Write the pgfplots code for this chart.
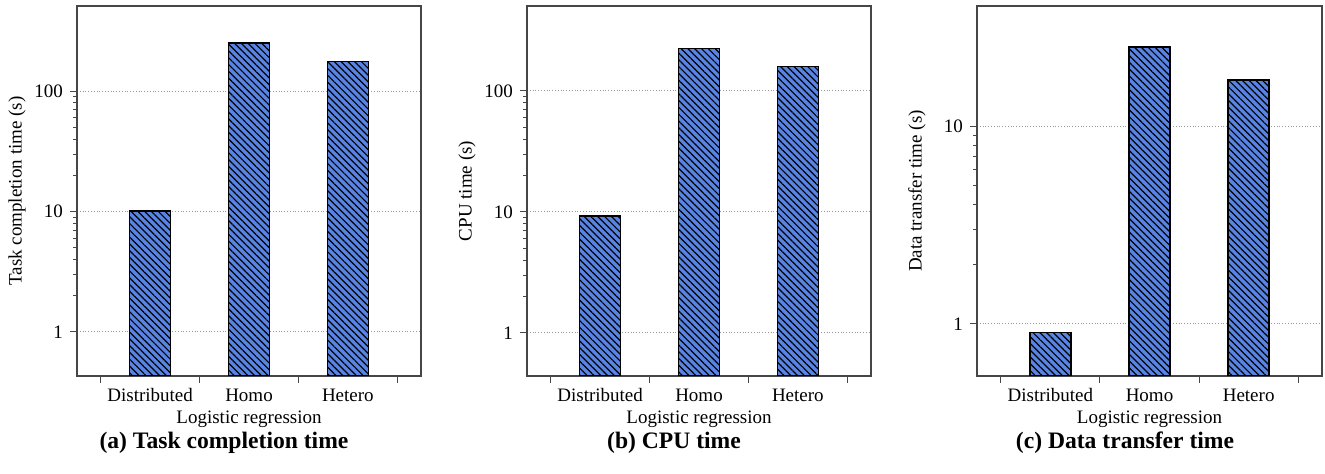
\documentclass[border=0pt]{standalone}
\usepackage{fontspec}
\setmainfont{Liberation Serif}
\usepackage{pgfplots}
\pgfplotsset{compat=1.18}
\usetikzlibrary{patterns.meta}

\definecolor{barblue}{RGB}{88,132,228}
\definecolor{framegray}{RGB}{70,70,70}

\pgfplotsset{
  lrbar/.style={
    scale only axis,
    height=185pt,
    xmin=0.26, xmax=3.74,
    xtick={0.5,1.5,2.5,3.5},
    xticklabels={},
    extra x ticks={1,2,3},
    extra x tick labels={Distributed,Homo,Hetero},
    extra x tick style={major tick length=0pt, xticklabel style={yshift=-2.8pt}},
    xtick pos=bottom, ytick pos=left,
    tick align=outside,
    major tick length=3.5pt, minor tick length=1.8pt,
    tick style={framegray, line width=0.5pt},
    axis line style={framegray, line width=0.6pt},
    ymajorgrids,
    major grid style={densely dotted, gray!80, line width=0.5pt},
    log ticks with fixed point,
    /pgf/number format/assume math mode=true,
    tick label style={font=\fontsize{9.5}{11}\selectfont},
    label style={font=\fontsize{9.5}{11}\selectfont},
    xlabel={Logistic regression},
    xlabel style={at={(axis description cs:0.5,0)}, anchor=center, yshift=-21.5pt},
    ylabel style={at={(axis description cs:0,0.5)}, anchor=center, yshift=30pt},
  },
  lrplot/.style={
    ybar, bar width=20.5pt, draw=black, line width=0.8pt, fill=barblue,
    postaction={pattern={Lines[angle=-45,distance=2.4pt,line width=0.6pt]}, pattern color=black}
  }
}

\begin{document}
\begin{tikzpicture}
\path (0,0) rectangle (662.5pt,-237pt);

% (a) task completion time
\begin{semilogyaxis}[lrbar, log origin=infty, at={(38.5pt,-188pt)}, anchor=south west, width=172pt,
  ymin=0.43, ymax=510, ytick={1,10,100},
  ylabel={Task completion time (s)}]
  \addplot[lrplot] coordinates {(1,10.1) (2,252) (3,177)};
\end{semilogyaxis}

% (b) CPU time
\begin{semilogyaxis}[lrbar, log origin=infty, at={(263.5pt,-188pt)}, anchor=south west, width=172pt,
  ymin=0.44, ymax=503, ytick={1,10,100},
  ylabel={CPU time (s)}]
  \addplot[lrplot] coordinates {(1,9.2) (2,224) (3,159)};
\end{semilogyaxis}

% (c) data transfer time
\begin{semilogyaxis}[lrbar, log origin=infty, at={(488.5pt,-188pt)}, anchor=south west, width=172.5pt,
  ymin=0.546, ymax=40.4, ytick={1,10},
  ylabel={Data transfer time (s)}]
  \addplot[lrplot] coordinates {(1,0.904) (2,25.1) (3,17.1)};
\end{semilogyaxis}

\node[font=\fontsize{11.8}{14}\selectfont\bfseries] at (112pt,-221.5pt) {(a) Task completion time};
\node[font=\fontsize{11.8}{14}\selectfont\bfseries] at (337pt,-221.5pt) {(b) CPU time};
\node[font=\fontsize{11.8}{14}\selectfont\bfseries] at (562.5pt,-221.5pt) {(c) Data transfer time};
\end{tikzpicture}
\end{document}
